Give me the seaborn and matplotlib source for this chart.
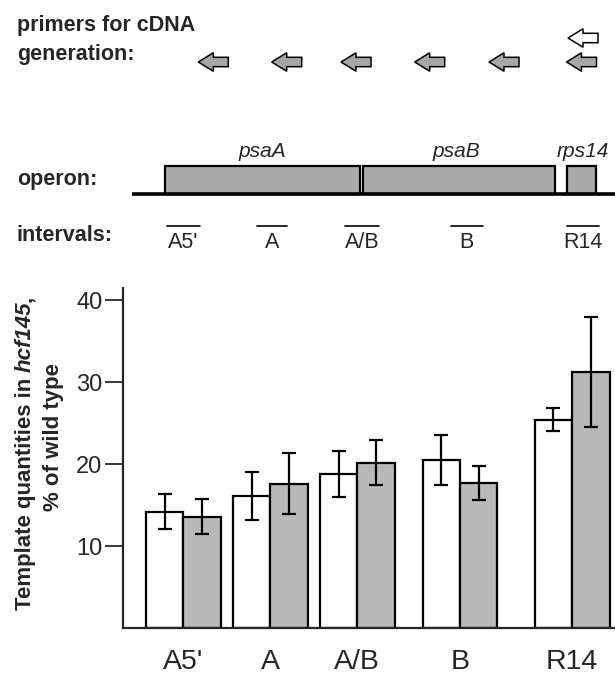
import numpy as np
import pandas as pd
import matplotlib
matplotlib.use('Agg')
import matplotlib.pyplot as plt
from matplotlib.patches import FancyArrow, Rectangle
import seaborn as sns

# ---- data ----
intervals = ["A5'", "A", "A/B", "B", "R14"]
open_vals = [14.2, 16.1, 18.8, 20.5, 25.4]
open_err = [2.1, 2.9, 2.8, 3.1, 1.4]
filled_vals = [13.6, 17.6, 20.2, 17.7, 31.2]
filled_err = [2.1, 3.7, 2.8, 2.1, 6.7]
series = ["open", "filled"]

# ---- schematic (top panel) labels ----
genes = ["psaA", "psaB", "rps14"]
interval_labels = ["A5'", "A", "A/B", "B", "R14"]

# layout only: group centres on the x axis (uneven spacing as in the figure)
group_x = [0, 1, 2, 3.18, 4.47]

FIG_W, FIG_H = 615, 677
DPI = 100

sns.set_style('ticks')
plt.rcParams['font.family'] = ['Liberation Sans', 'DejaVu Sans']

df = pd.DataFrame({
    'pos': group_x * 2,
    'value': open_vals + filled_vals,
    'primers': [series[0]] * 5 + [series[1]] * 5,
})

fig = plt.figure(figsize=(FIG_W / DPI, FIG_H / DPI), dpi=DPI)

# ---------------- bar chart ----------------
ax = fig.add_axes([122.7 / FIG_W, 49 / FIG_H, 1 - 122.7 / FIG_W, 340 / FIG_H])
sns.barplot(data=df, x='pos', y='value', hue='primers', hue_order=series,
            native_scale=True, width=0.86, errorbar=None,
            palette={'open': 'white', 'filled': '#b9b9b9'},
            edgecolor='black', linewidth=1.6, legend=False, ax=ax)

for cont, errs in zip(ax.containers, [open_err, filled_err]):
    bars = sorted(cont.patches, key=lambda b: b.get_x())
    xs = [b.get_x() + b.get_width() / 2 for b in bars]
    ys = [b.get_height() for b in bars]
    ax.errorbar(xs, ys, yerr=errs, fmt='none', ecolor='black',
                elinewidth=1.6, capsize=4.7, capthick=1.6, zorder=5)

ax.set_xlim(-0.697, 4.962)
ax.set_ylim(0, 41.5)
ax.set_yticks([10, 20, 30, 40])
ax.set_xticks(group_x, intervals)
ax.set_xlabel('')
ax.set_ylabel('')
for side in ['top', 'right']:
    ax.spines[side].set_visible(False)
for side in ['left', 'bottom']:
    ax.spines[side].set_linewidth(1.6)
ax.tick_params(axis='y', length=13, width=1.3, labelsize=17, pad=1.5)
ax.tick_params(axis='x', length=0, labelsize=20.5, pad=15)

# ---------------- schematic overlay (pixel coordinates) ----------------
ov = fig.add_axes([0, 0, 1, 1])
ov.set_xlim(0, FIG_W)
ov.set_ylim(FIG_H, 0)
ov.axis('off')

bold = dict(fontsize=15.5, fontweight='bold', va='baseline', ha='left')
ov.text(16.7, 31.5, 'primers for cDNA', **bold)
ov.text(16.7, 60, 'generation:', **bold)
ov.text(16.7, 185, 'operon:', **bold)
ov.text(16.7, 240.7, 'intervals:', **bold)

# primer arrows
arrow_tips = [198.3, 271.7, 341, 414.7, 489, 566.5]
for tip in arrow_tips:
    ov.add_patch(FancyArrow(tip + 30, 62, -30, 0, width=9.4, head_width=18.5,
                            head_length=15, length_includes_head=True,
                            facecolor='#a6a6a6', edgecolor='black', lw=1.1))
ov.add_patch(FancyArrow(568 + 30, 38, -30, 0, width=9.4, head_width=18.5,
                        head_length=15, length_includes_head=True,
                        facecolor='white', edgecolor='black', lw=1.1))

# operon
ov.plot([132, FIG_W], [194.3, 194.3], color='black', lw=2.6, solid_capstyle='butt', zorder=3)
gene_spans = [(165, 360), (363.3, 555), (567.3, 596)]
for name, (x0, x1) in zip(genes, gene_spans):
    ov.add_patch(Rectangle((x0, 166), x1 - x0, 194.3 - 166, facecolor='#aaaaaa',
                           edgecolor='black', lw=1.6, zorder=2))
gene_label_x = [262.5, 456, 583]
for name, gx in zip(genes, gene_label_x):
    ov.text(gx, 157, name, fontsize=15, style='italic', ha='center', va='baseline')

# intervals
interval_spans = [(166.7, 200), (256.7, 287.3), (345, 379.3), (450.7, 482.7), (566.7, 599.3)]
for lab, (x0, x1) in zip(interval_labels, interval_spans):
    ov.plot([x0, x1], [225.7, 225.7], color='black', lw=1.2)
    ov.text((x0 + x1) / 2, 248.3, lab, fontsize=15.5, ha='center', va='baseline')

# y-axis label (two lines, with italic strain name)
renderer = fig.canvas.get_renderer()
lab_kw = dict(fontsize=16, fontweight='bold', rotation=90, rotation_mode='anchor',
              ha='left', va='baseline')
parts = [('Template quantities in', 'normal'), ('hcf145', 'italic'), (',', 'normal')]
probe = ov.text(0, 0, 'a a', **lab_kw)
probe2 = ov.text(0, 0, 'aa', **lab_kw)
space = probe.get_window_extent(renderer).height - probe2.get_window_extent(renderer).height
probe.remove()
probe2.remove()

pieces = []
for s, st in parts:
    t = ov.text(0, 0, s, style=st, **lab_kw)
    pieces.append(t)
lengths = [t.get_window_extent(renderer).height for t in pieces]
gaps = [space, 0, 0]
total = sum(lengths) + space
y = 453 + total / 2
for t, L, g in zip(pieces, lengths, gaps):
    t.set_position((31, y))
    y -= L + g

ov.text(59, 437, '% of wild type', fontsize=16, fontweight='bold', rotation=90,
        rotation_mode='anchor', ha='center', va='baseline')

fig.savefig('out.png', dpi=DPI)
